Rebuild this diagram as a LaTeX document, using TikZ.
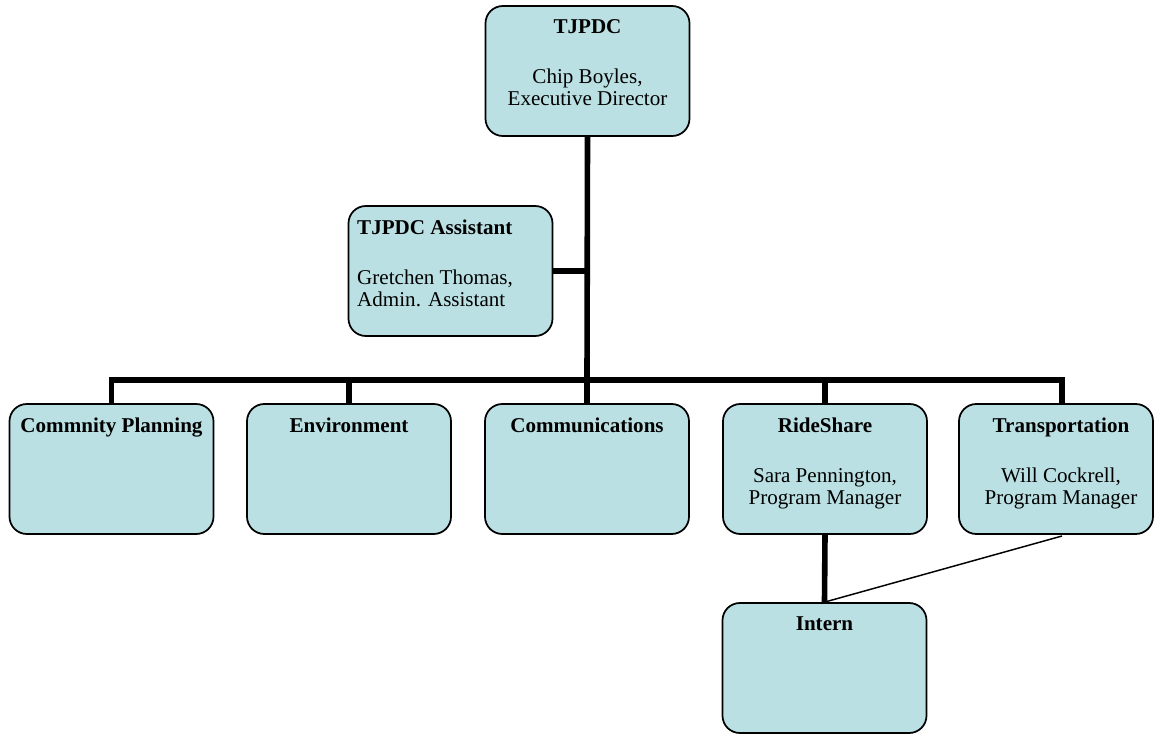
\documentclass[tikz,border=0pt]{standalone}
\usepackage{fontspec}
\setmainfont{Liberation Serif}
\definecolor{boxcyan}{RGB}{186,224,227}
\tikzset{
  unit/.style={draw=black,line width=1.3pt,fill=boxcyan,rounded corners=13pt,
    minimum width=153pt,minimum height=97.5pt,inner sep=0pt},
  caption/.style={anchor=north,align=center,inner sep=0pt,
    font=\fontsize{15.8}{16.5}\selectfont},
  trunk/.style={line width=4.2pt},
  crossline/.style={line width=1.1pt}
}
\begin{document}
\begin{tikzpicture}[x=0.75pt,y=-0.75pt]
\useasboundingbox (0,0) rectangle (1154,734);

\node[unit] (top) at (587.5,71) {};
\node[caption] (t-top) at ([yshift=-10.5pt]top.north)
  {\textbf{TJPDC}\\[21pt]Chip Boyles,\\Executive Director};

\node[unit] (asst) at (450.5,271) {};
\node[caption,anchor=north west,align=left] (t-asst) at ([xshift=7pt,yshift=-10.5pt]asst.north west)
  {\textbf{TJPDC Assistant}\\[21pt]Gretchen Thomas,\\Admin. Assistant};

\node[unit] (plan) at (111.5,469) {};
\node[caption] (t-plan) at ([yshift=-10.5pt]plan.north) {\textbf{Commnity Planning}};

\node[unit] (env) at (349,469) {};
\node[caption] (t-env) at ([yshift=-10.5pt]env.north) {\textbf{Environment}};

\node[unit] (comms) at (587,469) {};
\node[caption] (t-comms) at ([yshift=-10.5pt]comms.north) {\textbf{Communications}};

\node[unit] (ride) at (825,469) {};
\node[caption] (t-ride) at ([yshift=-10.5pt]ride.north)
  {\textbf{RideShare}\\[21pt]Sara Pennington,\\Program Manager};

\node[unit,minimum width=145.5pt] (trans) at (1056,469) {};
\node[caption] (t-trans) at ([xshift=3.75pt,yshift=-10.5pt]trans.north)
  {\textbf{Transportation}\\[21pt]Will Cockrell,\\Program Manager};

\node[unit] (intern) at (824.5,668) {};
\node[caption] (t-intern) at ([yshift=-10.5pt]intern.north) {\textbf{Intern}};

\coordinate (bus) at (587,380);
\coordinate (tr-top) at (1062,403);
\coordinate (tr-bot) at (1062,536);

\draw[trunk] (top.south) -- (bus);
\draw[trunk] (asst.east) -- (asst.east -| top.south);
\draw[trunk] (plan.north) |- (bus) -| (tr-top);
\foreach \n in {env,comms,ride}
  \draw[trunk] (\n.north) -- (\n.north |- bus);
\draw[trunk] (ride.south) -- (intern.north);
\draw[crossline] (tr-bot) -- (intern.north);
\end{tikzpicture}
\end{document}
